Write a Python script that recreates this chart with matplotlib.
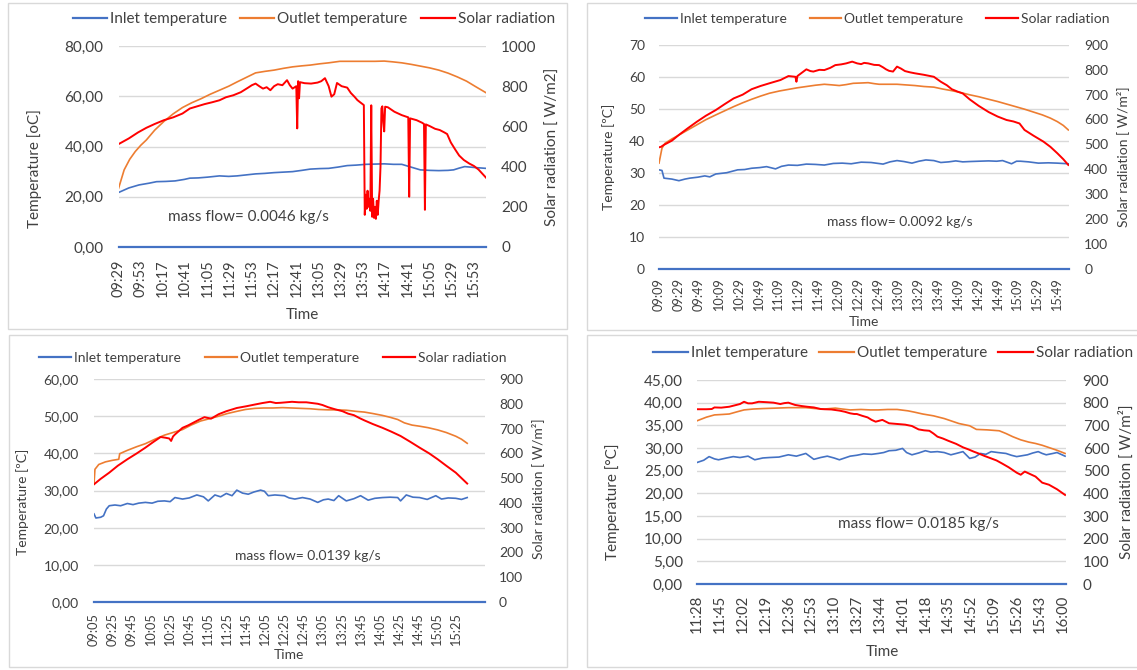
import matplotlib
matplotlib.use("Agg")
import matplotlib.pyplot as plt
from matplotlib.patches import Rectangle
from matplotlib.lines import Line2D
import numpy as np

plt.rcParams['font.family'] = ['Lato', 'DejaVu Sans']

# ---------------------------------------------------------------- data
legend_labels = ["Inlet temperature", "Outlet temperature", "Solar radiation"]

# ---- panel 1 (top-left)
p1_mass_flow = "mass flow= 0.0046 kg/s"
p1_ticks = ["09:29", "09:53", "10:17", "10:41", "11:05", "11:29", "11:53", "12:17", "12:41",
            "13:05", "13:29", "13:53", "14:17", "14:41", "15:05", "15:29", "15:53"]
p1_inlet_time = ["09:29", "09:40", "09:51", "10:02", "10:10", "10:20", "10:30", "10:40", "10:46", "10:55",
                 "11:05", "11:18", "11:28", "11:37", "11:47", "11:57", "12:07", "12:17", "12:27", "12:37",
                 "12:47", "12:56", "13:06", "13:16", "13:26", "13:36", "13:46", "13:56", "14:06", "14:16",
                 "14:26", "14:35", "14:45", "14:55", "15:05", "15:15", "15:25", "15:31", "15:37", "15:43",
                 "15:55", "16:06"]
p1_inlet = [21.7, 23.5, 24.7, 25.4, 26.0, 26.1, 26.3, 26.9, 27.4, 27.5,
            27.8, 28.3, 28.1, 28.3, 28.7, 29.1, 29.3, 29.6, 29.8, 30.0,
            30.5, 31.0, 31.2, 31.3, 31.8, 32.4, 32.6, 32.9, 33.0, 33.1,
            32.9, 32.9, 31.8, 30.7, 30.5, 30.4, 30.5, 30.7, 31.4, 32.0,
            31.6, 31.3]
p1_outlet_time = ["09:29", "09:35", "09:41", "09:47", "09:53", "09:59", "10:08", "10:18", "10:28", "10:38",
                  "10:48", "10:58", "11:08", "11:18", "11:28", "11:37", "11:47", "11:57", "12:07", "12:17",
                  "12:27", "12:37", "12:47", "12:56", "13:06", "13:16", "13:28", "13:42", "13:56", "14:06",
                  "14:16", "14:25", "14:35", "14:45", "14:55", "15:05", "15:15", "15:25", "15:35", "15:45",
                  "15:54", "16:06"]
p1_outlet = [23.4, 30.7, 34.9, 38.0, 40.5, 42.6, 46.5, 50.0, 53.0, 55.5,
             57.4, 59.0, 60.8, 62.4, 64.0, 65.7, 67.5, 69.3, 69.9, 70.4,
             71.1, 71.7, 72.1, 72.4, 72.9, 73.3, 73.9, 73.9, 73.9, 73.9,
             74.0, 73.7, 73.3, 72.7, 72.0, 71.3, 70.4, 69.2, 67.7, 66.0,
             64.0, 61.4]
p1_rad_time = ["09:29", "09:40", "09:50", "09:59", "10:08", "10:18", "10:28", "10:38", "10:46", "10:54",
               "11:02", "11:10", "11:18", "11:25", "11:33", "11:41", "11:49", "11:53", "11:57", "12:01",
               "12:05", "12:09", "12:13", "12:17", "12:21", "12:26", "12:31", "12:34", "12:37", "12:41",
               "12:42", "12:43", "12:44", "12:45", "12:50", "12:57", "13:04", "13:08", "13:12", "13:16",
               "13:19", "13:22", "13:25", "13:30", "13:36", "13:40", "13:44", "13:47", "13:50", "13:54",
               "13:55", "13:56", "13:57", "13:58", "13:59", "14:00", "14:01", "14:02", "14:03", "14:04",
               "14:05", "14:06", "14:07", "14:08", "14:09", "14:10", "14:11", "14:12", "14:13", "14:14",
               "14:15", "14:16", "14:17", "14:20", "14:27", "14:35", "14:42", "14:43", "14:44", "14:51",
               "14:57", "14:59", "15:00", "15:01", "15:05", "15:11", "15:16", "15:21", "15:24", "15:28",
               "15:33", "15:37", "15:42", "15:48", "15:53", "15:58", "16:02", "16:06"]
p1_rad = [512, 540, 570, 593, 612, 631, 645, 664, 689, 700,
          711, 720, 730, 745, 755, 770, 793, 805, 813, 800,
          788, 795, 780, 800, 810, 805, 830, 805, 788, 800,
          590, 825, 740, 820, 815, 813, 818, 825, 840, 800,
          748, 760, 816, 800, 793, 766, 747, 731, 720, 706,
          160, 260, 190, 280, 200, 240, 180, 705, 150, 240,
          145, 200, 140, 230, 160, 230, 280, 400, 690, 700,
          620, 575, 698, 695, 673, 656, 645, 250, 640, 631,
          618, 612, 185, 610, 602, 588, 582, 570, 562, 520,
          483, 455, 433, 415, 403, 385, 365, 345]

# ---- panel 2 (top-right)
p2_mass_flow = "mass flow= 0.0092 kg/s"
p2_ticks = ["09:09", "09:29", "09:49", "10:09", "10:29", "10:49", "11:09", "11:29", "11:49", "12:09",
            "12:29", "12:49", "13:09", "13:29", "13:49", "14:09", "14:29", "14:49", "15:09", "15:29", "15:49"]
p2_inlet_time = ["09:09", "09:12", "09:14", "09:22", "09:29", "09:35", "09:40", "09:48", "09:55", "10:00",
                 "10:06", "10:17", "10:28", "10:35", "10:42", "10:50", "10:57", "11:06", "11:12", "11:19",
                 "11:28", "11:37", "11:46", "11:55", "12:04", "12:13", "12:22", "12:32", "12:42", "12:54",
                 "13:01", "13:08", "13:15", "13:23", "13:30", "13:37", "13:45", "13:52", "14:00", "14:07",
                 "14:14", "14:21", "14:30", "14:40", "14:48", "14:54", "15:03", "15:08", "15:12", "15:20",
                 "15:30", "15:40", "15:49", "16:00"]
p2_inlet = [30.9, 30.7, 28.3, 28.0, 27.5, 28.0, 28.3, 28.6, 29.0, 28.7,
            29.6, 30.0, 30.9, 31.0, 31.4, 31.6, 31.9, 31.2, 32.0, 32.4,
            32.3, 32.7, 32.6, 32.4, 32.9, 33.0, 32.8, 33.3, 33.2, 32.7,
            33.4, 33.8, 33.5, 33.0, 33.6, 34.0, 33.8, 33.2, 33.4, 33.7,
            33.4, 33.5, 33.6, 33.7, 33.6, 33.8, 32.8, 33.6, 33.6, 33.4,
            33.0, 33.1, 33.0, 32.8]
p2_outlet_time = ["09:09", "09:12", "09:15", "09:22", "09:29", "09:38", "09:47", "09:56", "10:06", "10:15",
                  "10:24", "10:33", "10:42", "10:51", "11:00", "11:10", "11:19", "11:28", "11:37", "11:46",
                  "11:55", "12:03", "12:10", "12:17", "12:24", "12:32", "12:39", "12:45", "12:50", "13:00",
                  "13:08", "13:17", "13:26", "13:35", "13:45", "13:54", "14:03", "14:12", "14:21", "14:30",
                  "14:40", "14:49", "14:58", "15:07", "15:16", "15:25", "15:34", "15:42", "15:49", "15:55",
                  "16:00"]
p2_outlet = [33.0, 37.7, 39.2, 40.6, 41.8, 43.4, 45.0, 46.6, 48.1, 49.4,
             50.7, 51.9, 53.0, 54.0, 54.9, 55.6, 56.1, 56.6, 57.0, 57.4,
             57.7, 57.5, 57.3, 57.6, 58.0, 58.1, 58.2, 57.9, 57.7, 57.7,
             57.7, 57.5, 57.3, 57.0, 56.8, 56.2, 55.7, 55.1, 54.4, 53.8,
             53.0, 52.3, 51.5, 50.7, 49.9, 49.0, 48.1, 47.1, 46.0, 44.8,
             43.4]
p2_rad_time = ["09:09", "09:11", "09:14", "09:22", "09:29", "09:38", "09:47", "09:56", "10:06", "10:15",
               "10:24", "10:33", "10:42", "10:51", "11:00", "11:11", "11:19", "11:26", "11:27", "11:28",
               "11:33", "11:37", "11:41", "11:44", "11:50", "11:55", "12:01", "12:06", "12:12", "12:17",
               "12:23", "12:28", "12:32", "12:35", "12:39", "12:45", "12:50", "12:54", "12:57", "13:00",
               "13:04", "13:08", "13:12", "13:16", "13:21", "13:26", "13:35", "13:45", "13:52", "13:58",
               "14:03", "14:09", "14:14", "14:21", "14:30", "14:40", "14:49", "14:58", "15:05", "15:11",
               "15:16", "15:25", "15:35", "15:42", "15:49", "15:55", "16:00"]
p2_rad = [488, 490, 498, 515, 538, 565, 591, 615, 638, 662,
          685, 700, 722, 735, 746, 759, 775, 772, 752, 775,
          790, 802, 795, 793, 800, 799, 808, 819, 822, 826,
          833, 826, 823, 828, 826, 820, 819, 810, 802, 796,
          793, 813, 805, 795, 790, 786, 780, 772, 752, 738,
          722, 712, 705, 681, 655, 630, 612, 598, 592, 584,
          558, 535, 511, 490, 464, 440, 417]

# ---- panel 3 (bottom-left)
p3_mass_flow = "mass flow= 0.0139 kg/s"
p3_ticks = ["09:05", "09:25", "09:45", "10:05", "10:25", "10:45", "11:05", "11:25", "11:45", "12:05",
            "12:25", "12:45", "13:05", "13:25", "13:45", "14:05", "14:25", "14:45", "15:05", "15:25"]
p3_inlet_time = ["09:05", "09:07", "09:12", "09:15", "09:18", "09:21", "09:27", "09:33", "09:40", "09:46",
                 "09:52", "09:59", "10:06", "10:12", "10:19", "10:25", "10:30", "10:38", "10:45", "10:53",
                 "11:00", "11:05", "11:12", "11:18", "11:24", "11:30", "11:35", "11:41", "11:47", "11:53",
                 "12:00", "12:04", "12:08", "12:15", "12:25", "12:30", "12:36", "12:44", "12:52", "13:00",
                 "13:06", "13:11", "13:17", "13:22", "13:30", "13:38", "13:45", "13:53", "14:00", "14:08",
                 "14:16", "14:24", "14:27", "14:33", "14:40", "14:47", "14:55", "15:04", "15:10", "15:17",
                 "15:25", "15:31", "15:37"]
p3_inlet = [23.7, 22.6, 22.8, 23.2, 25.0, 25.9, 26.1, 25.9, 26.5, 26.2,
            26.6, 26.8, 26.6, 27.1, 27.2, 27.0, 28.1, 27.7, 28.0, 28.8,
            28.3, 27.2, 28.8, 28.3, 29.2, 28.6, 30.1, 29.3, 29.0, 29.6,
            30.1, 29.8, 28.6, 28.8, 28.6, 28.0, 27.7, 28.1, 27.7, 26.8,
            27.5, 27.7, 27.3, 28.6, 27.2, 27.8, 28.6, 27.4, 27.9, 28.1,
            28.2, 28.1, 27.2, 28.8, 28.2, 28.1, 27.6, 28.6, 27.7, 28.0,
            27.9, 27.6, 28.1]
p3_outlet_time = ["09:05", "09:06", "09:10", "09:17", "09:24", "09:31", "09:32", "09:40", "09:50", "09:59",
                  "10:09", "10:19", "10:28", "10:38", "10:47", "10:57", "11:06", "11:16", "11:25", "11:35",
                  "11:44", "11:54", "12:03", "12:13", "12:23", "12:33", "12:42", "12:52", "13:01", "13:11",
                  "13:20", "13:30", "13:40", "13:49", "13:58", "14:08", "14:16", "14:24", "14:31", "14:39",
                  "14:47", "14:56", "15:06", "15:15", "15:25", "15:31", "15:37"]
p3_outlet = [31.7, 35.7, 37.0, 37.7, 38.1, 38.4, 39.9, 40.8, 41.8, 42.6,
             43.8, 44.9, 45.6, 46.4, 47.6, 48.7, 49.3, 50.0, 50.7, 51.3,
             51.8, 52.1, 52.2, 52.2, 52.3, 52.2, 52.1, 52.0, 51.8, 51.7,
             51.7, 51.6, 51.3, 51.1, 50.7, 50.2, 49.7, 49.1, 48.2, 47.6,
             47.3, 46.9, 46.3, 45.6, 44.6, 43.8, 42.7]
p3_rad_time = ["09:05", "09:12", "09:21", "09:30", "09:40", "09:50", "09:59", "10:07", "10:15", "10:20",
               "10:24", "10:26", "10:28", "10:30", "10:38", "10:44", "10:49", "10:55", "11:01", "11:08",
               "11:16", "11:24", "11:30", "11:35", "11:45", "11:54", "12:02", "12:10", "12:16", "12:21",
               "12:27", "12:33", "12:40", "12:48", "12:54", "13:00", "13:05", "13:11", "13:18", "13:26",
               "13:32", "13:38", "13:44", "13:49", "13:58", "14:08", "14:17", "14:27", "14:37", "14:47",
               "14:57", "15:06", "15:15", "15:25", "15:31", "15:37"]
p3_rad = [475, 497, 522, 550, 576, 600, 623, 645, 666, 663,
          660, 650, 668, 676, 703, 713, 723, 735, 746, 740,
          758, 770, 777, 783, 790, 797, 803, 808, 803, 804,
          806, 808, 806, 806, 803, 800, 795, 786, 778, 770,
          760, 754, 742, 733, 718, 703, 688, 670, 647, 623,
          600, 576, 550, 522, 500, 478]

# ---- panel 4 (bottom-right)
p4_mass_flow = "mass flow= 0.0185 kg/s"
p4_ticks = ["11:28", "11:45", "12:02", "12:19", "12:36", "12:53", "13:10", "13:27", "13:44", "14:01",
            "14:18", "14:35", "14:52", "15:09", "15:26", "15:43", "16:00"]
p4_inlet_time = ["11:28", "11:33", "11:37", "11:41", "11:44", "11:50", "11:55", "12:00", "12:06", "12:11",
                 "12:17", "12:22", "12:29", "12:36", "12:42", "12:49", "12:55", "13:00", "13:05", "13:10",
                 "13:14", "13:18", "13:22", "13:27", "13:32", "13:38", "13:43", "13:47", "13:51", "13:56",
                 "14:01", "14:04", "14:08", "14:13", "14:18", "14:22", "14:27", "14:32", "14:37", "14:41",
                 "14:46", "14:51", "14:55", "14:59", "15:03", "15:07", "15:12", "15:18", "15:22", "15:26",
                 "15:30", "15:34", "15:38", "15:42", "15:45", "15:48", "15:53", "15:56", "16:02"]
p4_inlet = [26.8, 27.3, 28.1, 27.6, 27.4, 27.8, 28.1, 27.9, 28.2, 27.4,
            27.8, 27.9, 28.0, 28.5, 28.2, 28.8, 27.5, 27.9, 28.2, 27.8,
            27.4, 27.8, 28.2, 28.4, 28.7, 28.6, 28.8, 29.0, 29.4, 29.5,
            29.9, 29.0, 28.5, 28.9, 29.4, 29.1, 29.2, 29.0, 28.5, 28.8,
            29.2, 27.7, 28.0, 28.8, 28.6, 29.2, 29.0, 28.8, 28.4, 28.1,
            28.3, 28.5, 28.9, 29.2, 28.8, 28.5, 28.8, 29.0, 28.2]
p4_outlet_time = ["11:28", "11:35", "11:41", "11:47", "11:52", "11:58", "12:03", "12:10", "12:17", "12:27",
                  "12:36", "12:49", "12:56", "13:03", "13:11", "13:16", "13:22", "13:30", "13:37", "13:43",
                  "13:50", "13:57", "14:05", "14:10", "14:16", "14:24", "14:32", "14:38", "14:43", "14:51",
                  "14:56", "15:04", "15:13", "15:18", "15:23", "15:29", "15:35", "15:40", "15:45", "15:50",
                  "15:56", "16:02"]
p4_outlet = [36.0, 36.8, 37.3, 37.4, 37.5, 38.0, 38.4, 38.6, 38.7, 38.8,
             38.9, 38.9, 38.7, 38.6, 38.8, 38.6, 38.4, 38.5, 38.4, 38.4,
             38.5, 38.5, 38.2, 37.9, 37.5, 37.1, 36.5, 35.9, 35.4, 34.9,
             34.1, 34.0, 33.8, 33.2, 32.5, 31.8, 31.3, 31.0, 30.6, 30.1,
             29.5, 28.8]
p4_rad_time = ["11:28", "11:35", "11:39", "11:41", "11:46", "11:52", "11:56", "12:00", "12:03", "12:06",
               "12:09", "12:14", "12:20", "12:25", "12:30", "12:33", "12:36", "12:41", "12:46", "12:50",
               "12:55", "13:00", "13:03", "13:08", "13:14", "13:18", "13:22", "13:25", "13:27", "13:31",
               "13:35", "13:38", "13:41", "13:46", "13:51", "13:57", "14:03", "14:08", "14:13", "14:17",
               "14:21", "14:24", "14:27", "14:31", "14:35", "14:41", "14:46", "14:50", "14:54", "14:58",
               "15:02", "15:07", "15:11", "15:15", "15:20", "15:26", "15:29", "15:32", "15:36", "15:40",
               "15:45", "15:50", "15:56", "16:02"]
p4_rad = [771, 771, 772, 779, 778, 782, 788, 794, 804, 797,
          797, 804, 802, 800, 794, 798, 800, 790, 785, 782,
          779, 772, 771, 770, 765, 760, 753, 750, 750, 742,
          735, 724, 716, 724, 709, 706, 703, 697, 682, 678,
          676, 664, 650, 642, 632, 618, 603, 594, 584, 575,
          565, 554, 545, 532, 515, 491, 482, 496, 485, 474,
          447, 438, 418, 393]

# ---------------------------------------------------------------- style
W, H = 1137, 670
BLUE, ORANGE, RED = "#4472C4", "#ED7D31", "#FF0000"
GRID, FRAME, TEXT = "#D9D9D9", "#D9D9D9", "#404040"
LW = 1.2

fig = plt.figure(figsize=(W / 100, H / 100), dpi=100)
fig.patch.set_facecolor("white")


def to_min(t):
    h, m = t.split(":")
    return int(h) * 60 + int(m)


def fx(x):
    return x / W


def fy(y):
    return 1 - y / H


def panel(lay, ticks, ymax, ystep, yfmt, rmax, rstep,
          inlet_t, inlet, outlet_t, outlet, rad_t, rad, mass, ylab, rlab):
    x0, y0, x1, y1 = lay["frame"]
    fig.add_artist(Rectangle((fx(x0), fy(y1)), (x1 - x0) / W, (y1 - y0) / H,
                             transform=fig.transFigure, fill=False, ec=FRAME, lw=1.0))
    a0, b0, a1, b1 = lay["axes"]
    ax = fig.add_axes([fx(a0), fy(b1), (a1 - a0) / W, (b1 - b0) / H])
    ax2 = ax.twinx()
    t0 = to_min(ticks[0])
    ax.set_xlim(0, lay["xend"])
    ax.set_ylim(0, ymax)
    ax2.set_ylim(0, rmax)
    yt = np.arange(0, ymax + ystep / 2, ystep)
    rt = np.arange(0, rmax + rstep / 2, rstep)
    ax.set_yticks(yt)
    ax.set_yticklabels([yfmt(v) for v in yt])
    ax2.set_yticks(rt)
    ax2.set_yticklabels(["%d" % v for v in rt])
    ax.set_xticks([to_min(t) - t0 for t in ticks])
    ax.set_xticklabels(ticks, rotation=90)
    for a in (ax, ax2):
        for s in a.spines.values():
            s.set_visible(False)
        a.patch.set_visible(False)
    ax.tick_params(axis="y", length=0, pad=lay["ypad"], labelsize=lay["yfs"], labelcolor=TEXT)
    ax2.tick_params(axis="y", length=0, pad=lay["rpad"], labelsize=lay["yfs"], labelcolor=TEXT)
    ax.tick_params(axis="x", length=0, pad=lay["xpad"], labelsize=lay["xfs"], labelcolor=TEXT)
    for v in yt[1:]:
        ax.axhline(v, color=GRID, lw=1.0, zorder=0)
    ax.axhline(0, color=BLUE, lw=1.6, zorder=1, clip_on=False)
    ax.plot([to_min(t) - t0 for t in inlet_t], inlet, color=BLUE, lw=LW, zorder=2)
    ax.plot([to_min(t) - t0 for t in outlet_t], outlet, color=ORANGE, lw=LW, zorder=3)
    ax2.plot([to_min(t) - t0 for t in rad_t], rad, color=RED, lw=LW + 0.2, zorder=4)

    fs = lay["fs"]
    lx, ly = lay["ylab"]
    fig.text(fx(lx), fy(ly), ylab, rotation=90, ha="center", va="center", fontsize=fs, color=TEXT)
    rx, ry = lay["rlab"]
    fig.text(fx(rx), fy(ry), rlab, rotation=90, ha="center", va="center", fontsize=fs, color=TEXT)
    tx, ty = lay["time"]
    fig.text(fx(tx), fy(ty), "Time", ha="center", va="center", fontsize=fs, color=TEXT)
    mx, my = lay["mass"]
    fig.text(fx(mx), fy(my), mass, ha="center", va="center", fontsize=fs, color=TEXT)

    handles = [Line2D([], [], color=c, lw=1.6) for c in (BLUE, ORANGE, RED)]
    gx, gy = lay["legend"]
    fig.legend(handles, legend_labels, loc="center left", bbox_to_anchor=(fx(gx), fy(gy)),
               ncol=3, frameon=False, fontsize=lay["lfs"], handlelength=lay["hl"],
               handletextpad=0.2, columnspacing=lay["cs"], borderpad=0, borderaxespad=0,
               labelcolor=TEXT)


def comma2(v):
    return ("%.2f" % v).replace(".", ",")


def integer(v):
    return "%d" % v


lay1 = dict(frame=(8, 3, 567, 329), axes=(118.6, 46, 486, 247), xend=397,
            ypad=11, rpad=11, xpad=9, yfs=11, xfs=10.5, fs=11, lfs=11, hl=2.2, cs=0.9,
            ylab=(35, 169), rlab=(553, 147), time=(302, 315), mass=(248, 217), legend=(73, 19))
lay2 = dict(frame=(587, 3, 1145, 330), axes=(659, 45, 1069, 268.5), xend=411.7,
            ypad=10, rpad=11, xpad=7, yfs=10, xfs=9.2, fs=10, lfs=10, hl=2.3, cs=1.65,
            ylab=(609, 157), rlab=(1123, 157), time=(864, 322), mass=(900, 222), legend=(645, 19))
lay3 = dict(frame=(9, 335, 567, 667), axes=(94, 379, 485, 602), xend=410.7,
            ypad=11, rpad=10, xpad=8, yfs=10, xfs=9.2, fs=10, lfs=10, hl=2.3, cs=1.75,
            ylab=(23, 502), rlab=(538, 489), time=(289, 655), mass=(308, 556), legend=(39, 358))
lay4 = dict(frame=(587, 335, 1145, 667), axes=(697, 380, 1066, 584), xend=274.7,
            ypad=10, rpad=12, xpad=8, yfs=11, xfs=10.7, fs=11, lfs=11, hl=2.3, cs=0.7,
            ylab=(613, 502), rlab=(1126, 482), time=(882, 652), mass=(918, 524), legend=(653, 353))

panel(lay1, p1_ticks, 80, 20, comma2, 1000, 200,
      p1_inlet_time, p1_inlet, p1_outlet_time, p1_outlet, p1_rad_time, p1_rad,
      p1_mass_flow, "Temperature [oC]", "Solar radiation [ W/m2]")
panel(lay2, p2_ticks, 70, 10, integer, 900, 100,
      p2_inlet_time, p2_inlet, p2_outlet_time, p2_outlet, p2_rad_time, p2_rad,
      p2_mass_flow, "Temperature [ºC]", "Solar radiation [ W/m²]")
panel(lay3, p3_ticks, 60, 10, comma2, 900, 100,
      p3_inlet_time, p3_inlet, p3_outlet_time, p3_outlet, p3_rad_time, p3_rad,
      p3_mass_flow, "Temperature [ºC]", "Solar radiation [ W/m²]")
panel(lay4, p4_ticks, 45, 5, comma2, 900, 100,
      p4_inlet_time, p4_inlet, p4_outlet_time, p4_outlet, p4_rad_time, p4_rad,
      p4_mass_flow, "Temperature [°C]", "Solar radiation [ W/m²]")

fig.savefig("out.png", dpi=100)
